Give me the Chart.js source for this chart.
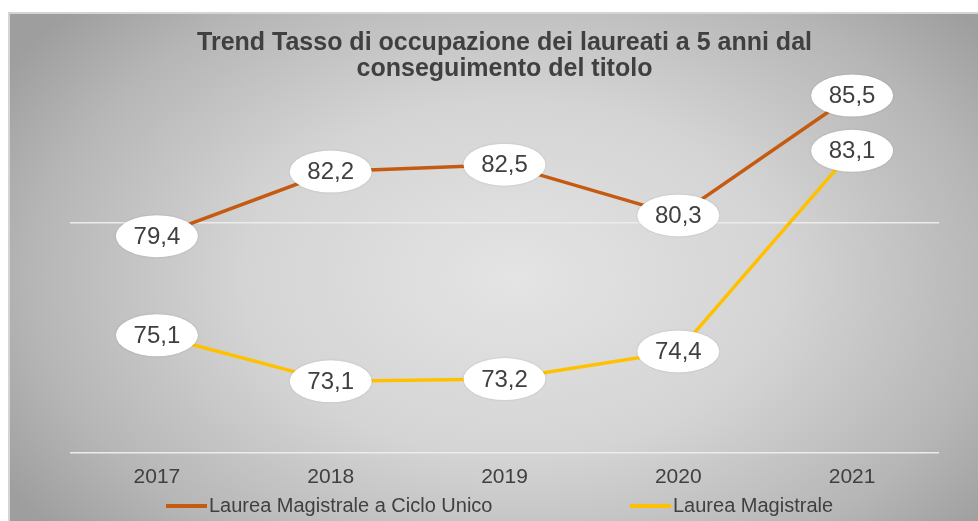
<!DOCTYPE html>
<html>
<head>
<meta charset="utf-8">
<script src="https://cdn.jsdelivr.net/npm/chart.js@4/dist/chart.umd.min.js"></script>
<style>
  html, body { margin: 0; padding: 0; background: #ffffff; }
  #wrap { position: relative; width: 978px; height: 521px; overflow: hidden; }
  #frame {
    position: absolute; left: 8px; top: 12px; width: 970px; height: 509px;
    box-sizing: border-box;
    border-top: 2px solid #d4d4d4; border-left: 2px solid #d4d4d4;
    background: radial-gradient(ellipse 62% 78% at 52% 52%, #e4e4e4 0%, #d4d4d4 45%, #b6b6b6 80%, #9e9e9e 100%);
  }
  canvas { position: absolute; left: 0; top: 0; }
</style>
</head>
<body>
<div id="wrap">
  <div id="frame"></div>
  <canvas id="c" width="978" height="521"></canvas>
</div>
<script>
const years = ['2017', '2018', '2019', '2020', '2021'];
const cicloUnico = [79.4, 82.2, 82.5, 80.3, 85.5];
const magistrale = [75.1, 73.1, 73.2, 74.4, 83.1];
const seriesNames = ['Laurea Magistrale a Ciclo Unico', 'Laurea Magistrale'];
const titleLines = ['Trend Tasso di occupazione dei laureati a 5 anni dal', 'conseguimento del titolo'];
const gridTicks = [70, 80];

const TEXT = '#404040';
const ORANGE = '#C55A11';
const YELLOW = '#FFC000';
const FONT = "'Liberation Sans', Arial, sans-serif";

const ellipseLabels = {
  id: 'ellipseLabels',
  afterDatasetsDraw(chart) {
    const ctx = chart.ctx;
    ctx.save();
    chart.data.datasets.forEach((ds, i) => {
      const meta = chart.getDatasetMeta(i);
      meta.data.forEach((pt, j) => {
        const x = pt.x, y = pt.y;
        ctx.beginPath();
        ctx.ellipse(x, y, 41, 21, 0, 0, Math.PI * 2);
        ctx.fillStyle = '#ffffff';
        ctx.shadowColor = 'rgba(0,0,0,0.18)';
        ctx.shadowBlur = 2;
        ctx.fill();
        ctx.shadowColor = 'transparent';
        ctx.shadowBlur = 0;
        ctx.fillStyle = TEXT;
        ctx.font = "24px " + FONT;
        ctx.textAlign = 'center';
        ctx.textBaseline = 'middle';
        ctx.fillText(ds.data[j].toFixed(1).replace('.', ','), x, y + 1);
      });
    });
    ctx.restore();
  }
};

const customLegend = {
  id: 'customLegend',
  afterDraw(chart) {
    const ctx = chart.ctx;
    const items = [
      { text: seriesNames[0], color: ORANGE, x: 166 },
      { text: seriesNames[1], color: YELLOW, x: 630 }
    ];
    const y = 506;
    ctx.save();
    items.forEach(it => {
      ctx.beginPath();
      ctx.moveTo(it.x, y);
      ctx.lineTo(it.x + 41, y);
      ctx.strokeStyle = it.color;
      ctx.lineWidth = 4;
      ctx.stroke();
      ctx.fillStyle = TEXT;
      ctx.font = "20px " + FONT;
      ctx.textAlign = 'left';
      ctx.textBaseline = 'middle';
      ctx.fillText(it.text, it.x + 43, y);
    });
    ctx.restore();
  }
};

new Chart(document.getElementById('c'), {
  type: 'line',
  data: {
    labels: years,
    datasets: [
      { label: seriesNames[0], data: cicloUnico, borderColor: ORANGE, backgroundColor: ORANGE, borderWidth: 3.5, pointRadius: 0, tension: 0, clip: false },
      { label: seriesNames[1], data: magistrale, borderColor: YELLOW, backgroundColor: YELLOW, borderWidth: 3.5, pointRadius: 0, tension: 0, clip: false }
    ]
  },
  options: {
    responsive: false,
    animation: false,
    layout: { padding: { left: 70, right: 39, top: 12, bottom: 19 } },
    plugins: {
      legend: { display: false },
      tooltip: { enabled: false },
      title: {
        display: true,
        text: titleLines,
        color: TEXT,
        font: { family: FONT, size: 25, weight: 'bold', lineHeight: 1.05 },
        padding: { top: 17.5, bottom: 2 }
      }
    },
    scales: {
      x: {
        offset: true,
        grid: { display: false, drawTicks: false },
        border: { display: false },
        ticks: { color: TEXT, font: { family: FONT, size: 21, lineHeight: 1.2 }, padding: 12, maxRotation: 0 }
      },
      y: {
        min: 70,
        max: 86,
        afterBuildTicks(scale) { scale.ticks = gridTicks.map(v => ({ value: v })); },
        grid: { color: '#ececec', lineWidth: 1.5, drawTicks: false },
        border: { display: false },
        ticks: { display: false }
      }
    }
  },
  plugins: [ellipseLabels, customLegend]
});
</script>
</body>
</html>
